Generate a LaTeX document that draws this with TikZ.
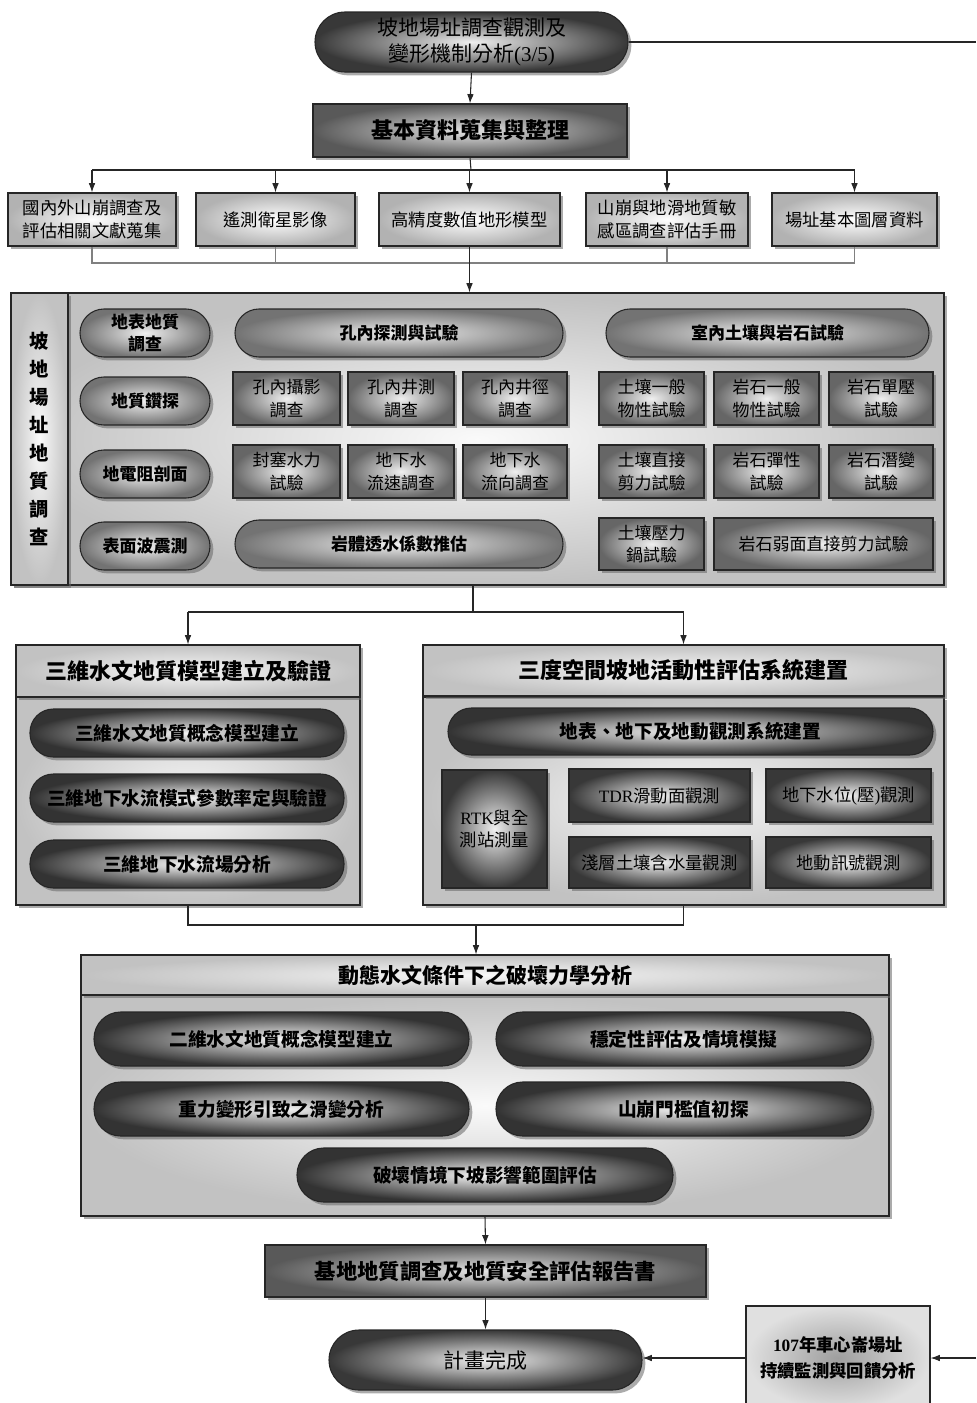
\documentclass[tikz,border=0pt]{standalone}
\usepackage{fontspec}
\setmainfont{Noto Sans CJK TC}
\newfontfamily\lat{Liberation Serif}
\usetikzlibrary{shadows,arrows.meta}
\newcommand\fTerm{\fontsize{15.75pt}{19.5pt}\selectfont}
\newcommand\fHdr{\fontsize{16.5pt}{20pt}\selectfont}
\newcommand\fRow{\fontsize{13pt}{17pt}\selectfont}
\newcommand\fGp{\fontsize{12.75pt}{16.5pt}\selectfont}
\newcommand\fGb{\fontsize{12.75pt}{17pt}\selectfont}
\newcommand\fDp{\fontsize{14pt}{17pt}\selectfont}
\newcommand\fDb{\fontsize{13pt}{17pt}\selectfont}
\newcommand\fMon{\fontsize{13pt}{20pt}\selectfont}
\newcommand\fStrip{\fontsize{14.5pt}{21pt}\selectfont}
\newcommand\fDyn{\fontsize{15.75pt}{19pt}\selectfont}
\newcommand\fRep{\fontsize{16pt}{20pt}\selectfont}
\tikzset{
 base/.style={draw=black!85, line width=0.8pt, align=center, inner sep=1pt},
 w/.style={minimum width=#1*0.75pt},
 h/.style={minimum height=#1*0.75pt},
 shd/.style={drop shadow={shadow xshift=2.5pt, shadow yshift=-2.5pt, fill=black!60, opacity=0.55}},
 term/.style={base, shd, rounded corners=22.5pt, inner color=black!6, outer color=black!78, text=black, font=\fTerm},
 hdrbox/.style={base, shd, inner color=black!10, outer color=black!65, text=black, font=\bfseries\fHdr},
 lbox/.style={base, shd, inner color=white, outer color=black!30, text=black, font=\fRow},
 panel/.style={base, shd, inner color=black!2, outer color=black!24},
 hpanel/.style={base, shd, inner color=black!3, outer color=black!24, text=black, font=\bfseries\fHdr},
 gpill/.style={base, shd, rounded corners=18pt, inner color=black!6, outer color=black!55, text=black, font=\bfseries\fGp},
 gbox/.style={base, shd, inner color=black!6, outer color=black!60, text=black, font=\fGb},
 dpill/.style={base, shd, rounded corners=17.5pt, inner color=black!4, outer color=black!80, text=black, font=\bfseries\fDp},
 dbox/.style={base, shd, inner color=black!6, outer color=black!78, text=black, font=\fDb},
 ypill/.style={base, shd, rounded corners=20pt, inner color=black!4, outer color=black!80, text=black, font=\bfseries\fDp},
 monbox/.style={base, inner color=black!38, outer color=black!12, text=black, font=\bfseries\fMon},
 arr/.style={-{Latex[length=7pt,width=5pt]}, line width=0.8pt, draw=black!85},
 ln/.style={line width=0.8pt, draw=black!85},
 gln/.style={line width=0.8pt, draw=black!50}
}
\begin{document}
\begin{tikzpicture}[x=0.75pt,y=-0.75pt]
\useasboundingbox (0,0) rectangle (976,1403);
% top
\node[term, w=313, h=60] (top) at (471.5,42) {坡地場址調查觀測及\\變形機制分析{\lat (3/5)}};
\node[hdrbox, w=314, h=53] (hdr) at (470,130.5) {基本資料蒐集與整理};
\node[lbox, w=168, h=53] (b1) at (92,219.5) {國內外山崩調查及\\評估相關文獻蒐集};
\node[lbox, w=159, h=53] (b2) at (275.5,219.5) {遙測衛星影像};
\node[lbox, w=181, h=53] (b3) at (469.5,219.5) {高精度數值地形模型};
\node[lbox, w=162, h=53] (b4) at (667,219.5) {山崩與地滑地質敏\\感區調查評估手冊};
\node[lbox, w=165, h=53] (b5) at (854.5,219.5) {場址基本圖層資料};
% geology panel
\node[panel, w=933, h=292] (geo) at (477.5,439) {};
\node[panel, w=57, h=292, text=black, font=\bfseries\fStrip] (strip) at (39.5,439) {坡\\地\\場\\址\\地\\質\\調\\查};
\node[gpill, w=130, h=48] (p11) at (145,333) {地表地質\\調查};
\node[gpill, w=328, h=48] (p12) at (399,333) {孔內探測與試驗};
\node[gpill, w=323, h=48] (p13) at (767.5,333) {室內土壤與岩石試驗};
\node[gpill, w=130, h=48] (p21) at (145,401) {地質鑽探};
\node[gbox, w=107, h=53] (g21) at (286.5,398.5) {孔內攝影\\調查};
\node[gbox, w=106, h=53] (g22) at (401,398.5) {孔內井測\\調查};
\node[gbox, w=104, h=53] (g23) at (515,398.5) {孔內井徑\\調查};
\node[gbox, w=105, h=53] (g24) at (651.5,398.5) {土壤一般\\物性試驗};
\node[gbox, w=105, h=53] (g25) at (766.5,398.5) {岩石一般\\物性試驗};
\node[gbox, w=104, h=53] (g26) at (881,398.5) {岩石單壓\\試驗};
\node[gpill, w=130, h=48] (p31) at (145,474) {地電阻剖面};
\node[gbox, w=107, h=53] (g31) at (286.5,471.5) {封塞水力\\試驗};
\node[gbox, w=106, h=53] (g32) at (401,471.5) {地下水\\流速調查};
\node[gbox, w=104, h=53] (g33) at (515,471.5) {地下水\\流向調查};
\node[gbox, w=105, h=53] (g34) at (651.5,471.5) {土壤直接\\剪力試驗};
\node[gbox, w=105, h=53] (g35) at (766.5,471.5) {岩石彈性\\試驗};
\node[gbox, w=104, h=53] (g36) at (881,471.5) {岩石潛變\\試驗};
\node[gpill, w=130, h=48] (p41) at (145,546) {表面波震測};
\node[gpill, w=328, h=48] (p42) at (399,544) {岩體透水係數推估};
\node[gbox, w=105, h=52] (g44) at (651.5,544) {土壤壓力\\鍋試驗};
\node[gbox, w=219, h=52] (g45) at (823.5,544) {岩石弱面直接剪力試驗};
% 3D left
\node[hpanel, w=344, h=208] (bL) at (188,801) {};
\node[hpanel, w=344, h=52] (hL) at (188,671) {三維水文地質模型建立及驗證};
\node[dpill, w=314, h=48] (l1) at (187,733) {三維水文地質概念模型建立};
\node[dpill, w=314, h=48] (l2) at (187,798) {三維地下水流模式參數率定與驗證};
\node[dpill, w=314, h=48] (l3) at (187,864) {三維地下水流場分析};
% 3D right
\node[hpanel, w=521, h=208] (bR) at (683.5,801) {};
\node[hpanel, w=521, h=51] (hR) at (683.5,670.5) {三度空間坡地活動性評估系統建置};
\node[dpill, w=485, h=47] (r1) at (690.5,731.5) {地表、地下及地動觀測系統建置};
\node[dbox, w=105, h=118] (rtk) at (494.5,829) {{\lat RTK}與全\\測站測量};
\node[dbox, w=181, h=53] (tdr) at (659.5,795.5) {{\lat TDR}滑動面觀測};
\node[dbox, w=165, h=53] (gw) at (848.5,795.5) {地下水位{\lat (}壓{\lat )}觀測};
\node[dbox, w=181, h=51] (sm) at (659.5,862.5) {淺層土壤含水量觀測};
\node[dbox, w=165, h=51] (gm) at (848.5,862.5) {地動訊號觀測};
% dynamic
\node[panel, w=808, h=221] (dB) at (485,1105.5) {};
\node[hpanel, w=808, h=40, font=\bfseries\fDyn] (dH) at (485,975) {動態水文條件下之破壞力學分析};
\node[ypill, w=375, h=54] (y1) at (281.5,1039) {二維水文地質概念模型建立};
\node[ypill, w=375, h=54] (y2) at (683.5,1039) {穩定性評估及情境模擬};
\node[ypill, w=375, h=54] (y3) at (281.5,1109) {重力變形引致之滑變分析};
\node[ypill, w=375, h=54] (y4) at (683.5,1109) {山崩門檻值初探};
\node[ypill, w=376, h=54] (y5) at (485,1175) {破壞情境下坡影響範圍評估};
% bottom
\node[hdrbox, w=441, h=52, font=\bfseries\fRep] (rep) at (485.5,1271) {基地地質調查及地質安全評估報告書};
\node[term, w=313, h=60] (end) at (485.5,1360) {計畫完成};
\node[monbox, w=184, h=104] (mon) at (838,1358) {{\lat 107}年車心崙場址\\持續監測與回饋分析};
\coordinate (rt) at (976,42);
\coordinate (rb) at (976,1358);
\coordinate (j1) at (471,170);
\coordinate (j2) at (473,263);
\coordinate (j3) at (473,612);
\coordinate (j4) at (476,925);
% connectors
\draw[ln] (top.east) -- (rt);
\draw[arr] (top.south) -- (hdr.north);
\draw[ln] (hdr.south) -- (j1);
\draw[ln] (b1.north |- j1) -- (b5.north |- j1);
\foreach \b in {b1,b2,b3,b4,b5} \draw[arr] (\b.north |- j1) -- (\b.north);
\draw[gln] (b1.south) -- (b1.south |- j2) -- (b5.south |- j2) -- (b5.south);
\draw[gln] (b2.south) -- (b2.south |- j2);
\draw[gln] (b4.south) -- (b4.south |- j2);
\draw[arr] (b3.south) -- (b3.south |- geo.north);
\draw[ln] (geo.south -| j3) -- (j3);
\draw[ln] (hL.north |- j3) -- (hR.north |- j3);
\draw[arr] (hL.north |- j3) -- (hL.north);
\draw[arr] (hR.north |- j3) -- (hR.north);
\draw[ln] (bL.south) -- (bL.south |- j4) -- (bR.south |- j4) -- (bR.south);
\draw[arr] (j4) -- (j4 |- dH.north);
\draw[arr] (dB.south) -- (rep.north);
\draw[arr] (rep.south) -- (end.north);
\draw[arr] (mon.west) -- (mon.west -| end.east);
\draw[arr] (rb) -- (mon.east);
\end{tikzpicture}
\end{document}
